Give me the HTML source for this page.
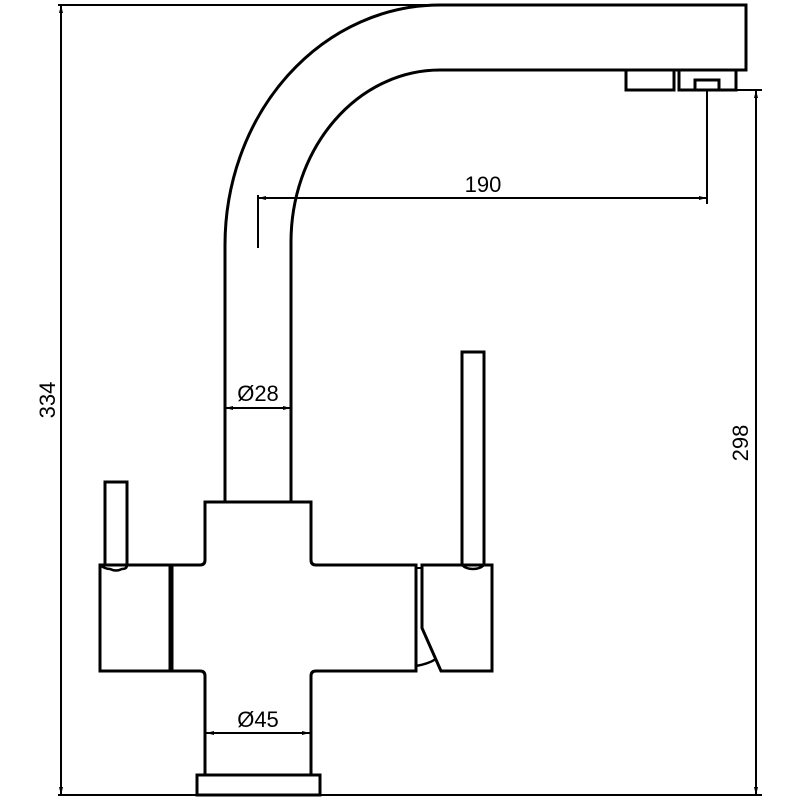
<!DOCTYPE html>
<html><head><meta charset="utf-8"><style>html,body{margin:0;padding:0;background:#fff}svg{display:block}</style></head>
<body>
<svg width="800" height="800" viewBox="0 0 800 800" xmlns="http://www.w3.org/2000/svg" font-family="Liberation Sans, sans-serif">
<g fill="none" stroke="#000" stroke-width="3">
<path d="M225,502 L225,245 A215,240 0 0 1 440,5 L746,5 L746,70 L440,70 A149,172 0 0 0 291,242 L291,502"/>
<rect x="626" y="70" width="48" height="20"/>
<path d="M679,70 L679,90 L736,90 L736,70"/>
<path d="M695,90 L695,80 L719,80 L719,90"/>
<path d="M205,502 L311,502 L311,560 Q311,565 316,565 L416,565 L416,671 L316,671 Q311,671 311,676 L311,775 L205,775 L205,676 Q205,671 200,671 L170,671 L170,565 L200,565 Q205,565 205,560 Z"/>
<path d="M170,565 L100,565 L100,671 L170,671"/>
<line x1="171" y1="565" x2="171" y2="671" stroke-width="5"/>
<path d="M105,566 L105,482 L127,482 L127,566"/>
<path d="M100,565 Q105,569 110,569 Q116,572 122,569 Q127,569 127,565" stroke-width="2.5"/>
<path d="M422,628 L422,565 L492,565 L492,671 L441,671 Z"/>
<path d="M416,568 L422,568" stroke-width="2"/>
<path d="M416,666 Q428,664 436,659" stroke-width="2.5"/>
<path d="M462,566 L462,352 L484,352 L484,566"/>
<path d="M462,565 Q466,569 473,569 Q480,569 484,565" stroke-width="2.5"/>
<rect x="197" y="775" width="123" height="20"/>
</g>
<g fill="none" stroke="#000" stroke-width="2">
<line x1="58" y1="795" x2="762" y2="795"/>
<line x1="58" y1="5" x2="440" y2="5"/>
<line x1="61" y1="5" x2="61" y2="795"/>
<line x1="736" y1="90" x2="762" y2="90"/>
<line x1="756" y1="90" x2="756" y2="795"/>
<line x1="707" y1="90" x2="707" y2="204"/>
<line x1="258" y1="198" x2="707" y2="198"/>
<line x1="258" y1="195" x2="258" y2="248"/>
<line x1="225" y1="408" x2="291" y2="408"/>
<line x1="206" y1="733" x2="310" y2="733"/>
</g>
<g fill="#000">
<path d="M61,5 l-2,8 h4z"/><path d="M61,795 l-2,-8 h4z"/>
<path d="M756,90 l-2,8 h4z"/><path d="M756,795 l-2,-8 h4z"/>
<path d="M258,198 l8,-2 v4z"/><path d="M707,198 l-8,-2 v4z"/>
<path d="M225,408 l8,-2 v4z"/><path d="M291,408 l-8,-2 v4z"/>
<path d="M206,733 l8,-2 v4z"/><path d="M310,733 l-8,-2 v4z"/>
</g>
<g font-size="22" fill="#000" text-anchor="middle">
<text x="483" y="192">190</text>
<text x="258" y="401">Ø28</text>
<text x="258" y="727">Ø45</text>
<text transform="translate(55,400) rotate(-90)">334</text>
<text transform="translate(748,443) rotate(-90)">298</text>
</g>
</svg>
</body></html>
